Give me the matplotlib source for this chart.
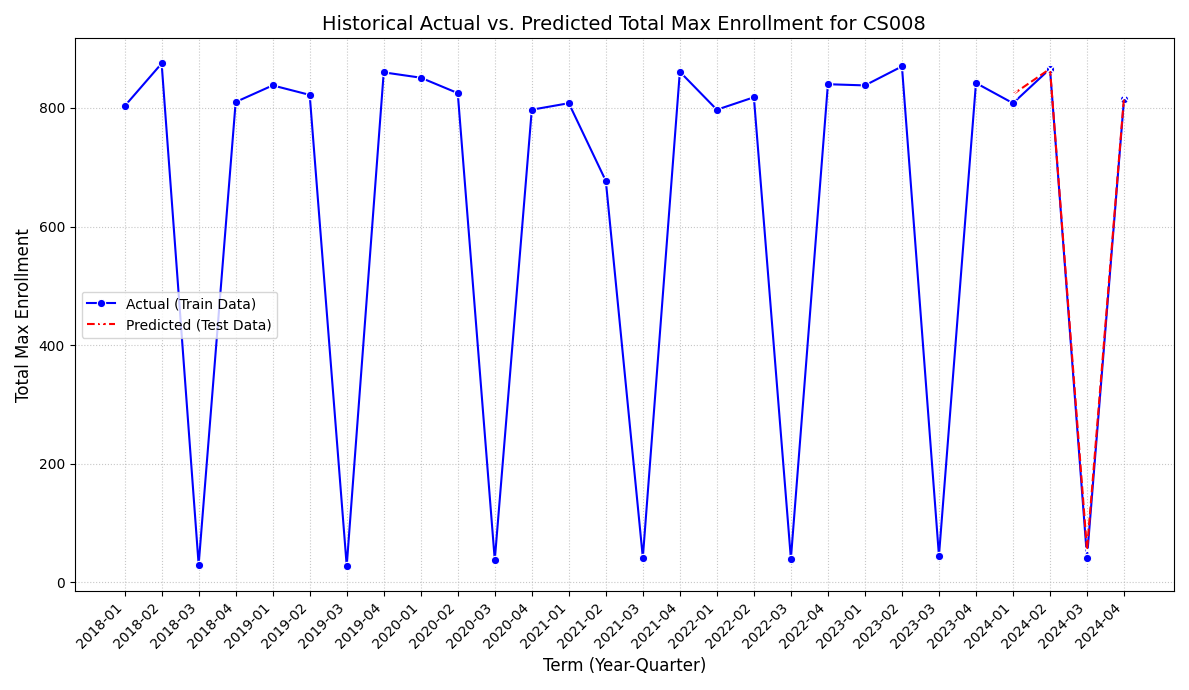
import matplotlib
matplotlib.use('Agg')
import matplotlib.pyplot as plt

terms = ['2018-01', '2018-02', '2018-03', '2018-04', '2019-01', '2019-02', '2019-03', '2019-04',
         '2020-01', '2020-02', '2020-03', '2020-04', '2021-01', '2021-02', '2021-03', '2021-04',
         '2022-01', '2022-02', '2022-03', '2022-04', '2023-01', '2023-02', '2023-03', '2023-04',
         '2024-01', '2024-02', '2024-03', '2024-04']
actual = [803, 875, 30, 810, 838, 822, 28, 860,
          851, 825, 38, 797, 808, 677, 42, 861,
          797, 818, 40, 840, 838, 870, 45, 842,
          808, 866, 42, 815]

pred_terms = ['2024-01', '2024-02', '2024-03', '2024-04']
predicted = [823, 866, 55, 818]

fig = plt.figure(figsize=(11.89, 6.9), dpi=100)
ax = plt.gca()
x = list(range(len(terms)))
px = [terms.index(t) for t in pred_terms]

plt.plot(x, actual, color='blue', marker='o', markersize=6, markeredgecolor='white',
         markeredgewidth=0.8, label='Actual (Train Data)')
plt.plot(px, predicted, color='red', linestyle='--', marker='x', markersize=6,
         markeredgecolor='white', label='Predicted (Test Data)')

plt.title('Historical Actual vs. Predicted Total Max Enrollment for CS008', fontsize=14)
plt.xlabel('Term (Year-Quarter)', fontsize=12)
plt.ylabel('Total Max Enrollment', fontsize=12)
plt.xticks(x, terms, rotation=45, ha='right')
plt.grid(True, linestyle=':', alpha=0.7)
plt.legend(loc='center left')
plt.tight_layout()
plt.savefig('out.png')
